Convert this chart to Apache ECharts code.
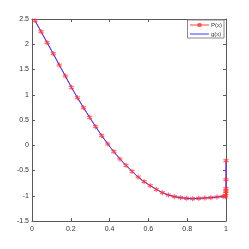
<!DOCTYPE html>
<html><head><meta charset="utf-8">
<script src="https://cdn.jsdelivr.net/npm/echarts@6/dist/echarts.min.js"></script>
<style>html,body{margin:0;padding:0;background:#fff}#c{width:249px;height:249px}</style>
</head><body><div id="c"></div>
<script>
var xValues = [0.0156,0.0469,0.0781,0.1094,0.1406,0.1719,0.2031,0.2344,0.2656,0.2969,0.3281,0.3594,0.3906,0.4219,0.4531,0.4844,0.5156,0.5469,0.5781,0.6094,0.6406,0.6719,0.7031,0.7344,0.7656,0.7969,0.8281,0.8594,0.8906,0.9219,0.9531,0.9844,0.996,0.998,0.999,0.9995,0.9998,0.9999,1.0];
var pValues = [2.467,2.249,2.031,1.813,1.589,1.371,1.147,0.941,0.744,0.553,0.368,0.190,0.025,-0.127,-0.272,-0.398,-0.516,-0.629,-0.721,-0.800,-0.873,-0.939,-0.985,-1.018,-1.038,-1.051,-1.058,-1.051,-1.045,-1.038,-1.025,-1.012,-1.02,-0.99,-0.95,-0.91,-0.86,-0.68,-0.306];
var gValues = pValues.slice();
var xTicks = [0,0.2,0.4,0.6,0.8,1];
var yTicks = [-1.5,-1,-0.5,0,0.5,1,1.5,2,2.5];
var seriesNames = ['P(x)','g(x)'];

var font = 'Liberation Sans, Arial, sans-serif';
var axisCol = '#5a5a5a';
var chart = echarts.init(document.getElementById('c'), null, {renderer:'canvas'});
function pairs(xs, ys){ return xs.map(function(x,i){return [x, ys[i]];}); }
var star = 'path://M0,-5L0,5M-4.33,-2.5L4.33,2.5M-4.33,2.5L4.33,-2.5';
var baseX = {type:'value', min:0, max:1, interval:0.2, splitLine:{show:false},
  axisLine:{onZero:false, lineStyle:{color:axisCol, width:1}},
  axisTick:{inside:true, length:3, lineStyle:{color:axisCol}}};
var baseY = {type:'value', min:-1.5, max:2.5, interval:0.5, splitLine:{show:false},
  axisLine:{onZero:false, lineStyle:{color:axisCol, width:1}},
  axisTick:{inside:true, length:3, lineStyle:{color:axisCol}}};
chart.setOption({
  animation:false,
  grid:{left:32, right:23, top:19, bottom:28},
  legend:{top:20, right:25, orient:'vertical', itemGap:3, itemWidth:19, itemHeight:5,
    padding:[2,2,1,2], borderColor:'#8a8a8a', borderWidth:1, backgroundColor:'#fff',
    lineStyle:{width:1},
    textStyle:{fontFamily:font, fontSize:6, color:'#333', padding:[0,0,0,-3]},
    data:[{name:seriesNames[0]}, {name:seriesNames[1], itemStyle:{opacity:0}}]},
  xAxis:[Object.assign({}, baseX, {position:'bottom',
      axisLabel:{fontFamily:font, fontSize:7, color:'#333', margin:5,
        formatter:function(v){return xTicks.indexOf(+v.toFixed(1))>=0 ? String(+v.toFixed(1)) : '';}}}),
    Object.assign({}, baseX, {position:'top', axisLabel:{show:false}})],
  yAxis:[Object.assign({}, baseY, {position:'left',
      axisLabel:{fontFamily:font, fontSize:7, color:'#333', margin:3,
        formatter:function(v){return yTicks.indexOf(+v.toFixed(1))>=0 ? String(+v.toFixed(1)) : '';}}}),
    Object.assign({}, baseY, {position:'right', axisLabel:{show:false}})],
  series:[
    {name:seriesNames[0], type:'line', xAxisIndex:0, yAxisIndex:0, data:pairs(xValues,pValues),
      symbol:star, symbolSize:5, showAllSymbol:true,
      lineStyle:{color:'#ff4040', width:1}, itemStyle:{color:'rgba(255,0,0,0.8)', borderColor:'rgba(255,50,50,0.7)', borderWidth:1.3}},
    {name:seriesNames[1], type:'line', xAxisIndex:0, yAxisIndex:0, data:pairs(xValues,gValues),
      symbol:'none', lineStyle:{color:'#3b3bff', width:1}, itemStyle:{color:'#7070ff'}}
  ]
});
</script></body></html>
